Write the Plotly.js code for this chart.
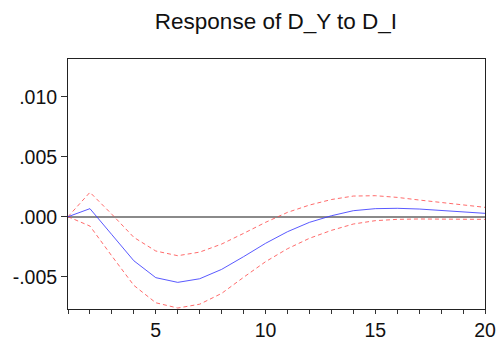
<!DOCTYPE html>
<html>
<head>
<meta charset="utf-8">
<script src="https://cdn.plot.ly/plotly-3.0.1.min.js"></script>
<style>html,body{margin:0;padding:0;background:#fff;}#chart{width:499px;height:345px;}</style>
</head>
<body>
<div id="chart"></div>
<script>
const periods = [1,2,3,4,5,6,7,8,9,10,11,12,13,14,15,16,17,18,19,20];
const response = [0, 0.00067, -0.0015, -0.00367, -0.00508, -0.00547, -0.00517, -0.00439, -0.00333, -0.00222, -0.00125, -0.00047, 0.00008, 0.0005, 0.00067, 0.0007, 0.00064, 0.00053, 0.00039, 0.00028];
const upperBand = [0, 0.00203, 0.0002, -0.00172, -0.00286, -0.00325, -0.00295, -0.00228, -0.00139, -0.00047, 0.00036, 0.00097, 0.00143, 0.00172, 0.00175, 0.00161, 0.00139, 0.00117, 0.00097, 0.00078];
const lowerBand = [0, -0.00078, -0.00328, -0.00572, -0.00717, -0.00761, -0.00729, -0.00639, -0.00505, -0.00375, -0.00267, -0.0018, -0.00114, -0.00061, -0.00033, -0.00022, -0.00019, -0.00019, -0.00019, -0.00022];
const yTickVals = [-0.005, 0, 0.005, 0.01];
const yTickText = ['-.005', '.000', '.005', '.010'];
const xLabelled = [5, 10, 15, 20];

const traces = [
  {x: periods, y: upperBand, mode: 'lines', line: {color: 'rgba(255,70,70,0.8)', width: 1, dash: '4px,3px'}, hoverinfo: 'skip'},
  {x: periods, y: lowerBand, mode: 'lines', line: {color: 'rgba(255,70,70,0.8)', width: 1, dash: '4px,3px'}, hoverinfo: 'skip'},
  {x: periods, y: response, mode: 'lines', line: {color: 'rgba(60,60,255,0.85)', width: 1}, hoverinfo: 'skip'}
];

const layout = {
  width: 499, height: 345,
  margin: {l: 68, r: 14, t: 59, b: 36},
  paper_bgcolor: '#fff', plot_bgcolor: '#fff',
  showlegend: false,
  font: {family: 'Liberation Sans, Arial, sans-serif', color: '#111', size: 19.5},
  title: {text: 'Response of D_Y to D_I', font: {size: 22.5, color: '#111'}, x: 0.553, xanchor: 'center', y: 0.915, yanchor: 'bottom'},
  xaxis: {
    range: [1, 20], tickmode: 'array', tickvals: periods,
    ticktext: periods.map(p => xLabelled.includes(p) ? String(p) : ''),
    ticks: 'outside', ticklen: 4, tickcolor: '#333', tickwidth: 1,
    showgrid: false, zeroline: false, showline: true, linecolor: '#222', linewidth: 1, mirror: true,
    tickfont: {size: 19.5}
  },
  yaxis: {
    range: [-0.00769, 0.01314], tickmode: 'array', tickvals: yTickVals, ticktext: yTickText,
    ticks: 'outside', ticklen: 6, tickcolor: '#333', tickwidth: 1,
    showgrid: false, zeroline: true, zerolinecolor: '#8a8a8a', zerolinewidth: 2,
    showline: true, linecolor: '#222', linewidth: 1, mirror: true,
    tickfont: {size: 19.5}
  }
};

Plotly.newPlot('chart', traces, layout, {staticPlot: true, displayModeBar: false});
</script>
</body>
</html>
